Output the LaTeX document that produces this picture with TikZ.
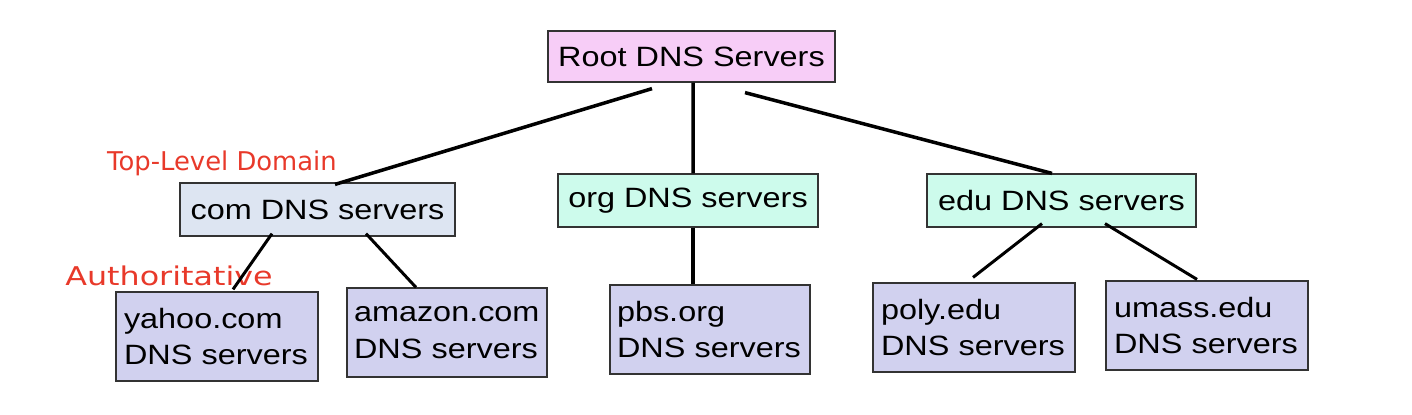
\documentclass[tikz,border=0pt]{standalone}
\usepackage{fontspec}
\setmainfont{Liberation Sans}[FakeStretch=1.16]
\newfontfamily\notefont{DejaVu Sans}
\usetikzlibrary{calc}
\definecolor{rootfill}{HTML}{F7CDF7}
\definecolor{tldfill}{HTML}{DDE5F2}
\definecolor{orgfill}{HTML}{CDFBEC}
\definecolor{authfill}{HTML}{D1D1EF}
\definecolor{notered}{HTML}{E8392A}
\tikzset{
  srvbox/.style={draw=black!80, line width=0.7pt, inner sep=0pt, font=\fontsize{15.9}{20}\selectfont},
  leafbox/.style={srvbox, fill=authfill, minimum height=89*0.02cm, inner xsep=8*0.02cm, text width=186*0.02cm, align=left, font=\fontsize{15.9}{21}\selectfont},
  link/.style={line width=2pt},
  sublink/.style={line width=1.7pt},
  note/.style={text=notered, font=\notefont\fontsize{14.7}{16}\selectfont, inner sep=0pt}
}
\begin{document}
\begin{tikzpicture}[x=0.02cm, y=0.02cm]
                \useasboundingbox (0,0) rectangle (1412,414);
                \node (root)[srvbox, fill=rootfill, minimum width=287*0.02cm, minimum height=51*0.02cm] at (691.5,357.5) {Root DNS Servers};
                \node (com)[srvbox, fill=tldfill, minimum width=275*0.02cm, minimum height=53*0.02cm] at (317.5,204.5) {com DNS servers};
                \node (org)[srvbox, fill=orgfill, minimum width=260*0.02cm, minimum height=53*0.02cm] at (688,213.5) {org DNS servers};
                \node (edu)[srvbox, fill=orgfill, minimum width=269*0.02cm, minimum height=53*0.02cm] at (1061.5,213.5) {edu DNS servers};
                \node (yahoo)[leafbox] at (217,77.5) {yahoo.com\\DNS servers};
                \node (amazon)[leafbox, inner xsep=7*0.02cm] at (447,81.5) {amazon.com\\DNS servers};
                \node (pbs)[leafbox, inner xsep=7*0.02cm] at (710,84.5) {pbs.org\\DNS servers};
                \node (poly)[leafbox] at (974,86.5) {poly.edu\\DNS servers};
                \node (umass)[leafbox] at (1207,88.5) {umass.edu\\DNS servers};
                \node (tld)[note] at (222,250.5) {Top-Level Domain};
                \node (auth)[note, xscale=1.23, transform shape] at (169,138) {Authoritative};
                \draw[link] ($(root.south)+(-39.5,-6)$) to ($(com.north)+(17.5,-2)$);
                \draw[link] ($(root.south)+(1.5,0)$) to ($(org.north)+(5,0)$);
                \draw[link] ($(root.south)+(53.5,-10)$) to ($(edu.north)+(-9.5,0)$);
                \draw[sublink] ($(com.south)+(-45.5,3)$) to ($(yahoo.north)+(16,2)$);
                \draw[sublink] ($(com.south)+(48.5,3)$) to ($(amazon.north)+(-31,0)$);
                \draw[link] ($(org.south)+(5,0)$) to ($(pbs.north)+(-17,0)$);
                \draw[sublink] ($(edu.south)+(-19.5,4)$) to ($(poly.north)+(-1,5)$);
                \draw[sublink] ($(edu.south)+(43.5,4)$) to ($(umass.north)+(-10,1)$);
            \end{tikzpicture}
\end{document}
